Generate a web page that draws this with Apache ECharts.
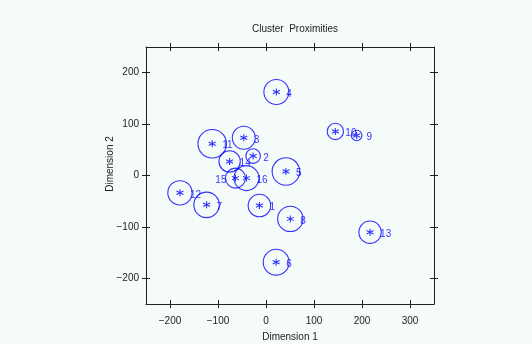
<!DOCTYPE html>
<html><head><meta charset="utf-8">
<script src="https://cdn.jsdelivr.net/npm/echarts@6/dist/echarts.min.js"></script>
<style>html,body{margin:0;padding:0;background:#fff}#c{width:532px;height:344px}</style>
</head><body><div id="c"></div>
<script>
// Cluster labels and canonical coordinates (Dimension 1, Dimension 2)
const clusterLabels = ['1','2','3','4','5','6','7','8','9','10','11','12','13','14','15','16'];
const dim1 = [-13.7, -26.8, -46.3, 21.6, 41.5, 21.2, -123.8, 50.7, 188.8, 144.5, -112.0, -179.3, 216.8, -75.8, -63.6, -40.7];
const dim2 = [-58.4, 37.8, 73.4, 162.5, 7.8, -168.7, -57.1, -84.4, 77.9, 85.7, 61.8, -33.7, -110.3, 27.3, -5.1, -5.1];
// cluster radius, in Dimension 1 units
const clusterRadius = [23.5, 15.2, 23.9, 26.0, 28.7, 27.0, 26.6, 26.4, 11.0, 17.0, 29.7, 25.3, 23.3, 22.2, 20.8, 26.0];
const xTicks = [-200, -100, 0, 100, 200, 300];
const yTicks = [-200, -100, 0, 100, 200];

const BLUE = '#0000ff';
const AX = '#222222';
const FONT = 'Liberation Sans';
const X_MIN = -250, X_MAX = 350, Y_MIN = -250, Y_MAX = 250;
const GRID = {left: 146, top: 47, width: 288, height: 257, outerBoundsMode: 'none', containLabel: false};
const pxPerUnit = GRID.width / (X_MAX - X_MIN);

const labelLeft = {'15': true};

const points = dim1.map((x, i) => ({
  value: [x, dim2[i], clusterRadius[i]],
  name: clusterLabels[i],
  label: labelLeft[clusterLabels[i]] ? {position: 'left', distance: 3} : undefined
}));

const fmt = v => (v < 0 ? '\u2212' + Math.abs(v) : String(v));

function xAx(position, inside, withLine, withLabel) {
  return {
    type: 'value', position, min: X_MIN, max: X_MAX, gridIndex: 0,
    axisLine: {show: withLine, onZero: false, lineStyle: {color: AX, width: 1}},
    axisTick: {show: true, inside, length: 4, customValues: xTicks, lineStyle: {color: AX, width: 1}},
    axisLabel: withLabel ? {show: true, customValues: xTicks, formatter: fmt, margin: 12, fontSize: 10, fontFamily: FONT, color: AX} : {show: false},
    splitLine: {show: false},
    name: withLabel ? 'Dimension 1' : '',
    nameLocation: 'middle', nameGap: 28, nameMoveOverlap: false,
    nameTextStyle: {fontSize: 10, fontFamily: FONT, color: AX}
  };
}
function yAx(position, inside, withLine, withLabel) {
  return {
    type: 'value', position, min: Y_MIN, max: Y_MAX, gridIndex: 0,
    axisLine: {show: withLine, onZero: false, lineStyle: {color: AX, width: 1}},
    axisTick: {show: true, inside, length: 4, customValues: yTicks, lineStyle: {color: AX, width: 1}},
    axisLabel: withLabel ? {show: true, customValues: yTicks, formatter: fmt, margin: 7, fontSize: 10, fontFamily: FONT, color: AX} : {show: false},
    splitLine: {show: false},
    name: withLabel ? 'Dimension 2' : '',
    nameLocation: 'middle', nameGap: 31, nameRotate: 90, nameMoveOverlap: false,
    nameTextStyle: {fontSize: 10, fontFamily: FONT, color: AX, padding: [0, 0, 0, 23]}
  };
}

const chart = echarts.init(document.getElementById('c'), null, {renderer: 'canvas'});
chart.setOption({
  backgroundColor: '#f5fbf9',
  animation: false,
  title: {
    text: 'Cluster  Proximities', left: 290, top: 19, textAlign: 'center',
    textStyle: {fontSize: 10, fontWeight: 'normal', fontFamily: FONT, color: AX}
  },
  grid: GRID,
  xAxis: [xAx('bottom', false, true, true), xAx('bottom', true, false, false), xAx('top', false, true, false), xAx('top', true, false, false)],
  yAxis: [yAx('left', false, true, true), yAx('left', true, false, false), yAx('right', false, true, false), yAx('right', true, false, false)],
  series: [
    {
      type: 'scatter', xAxisIndex: 0, yAxisIndex: 0,
      data: points.map(p => p.value),
      symbol: 'circle',
      symbolSize: v => 2 * v[2] * pxPerUnit,
      itemStyle: {color: 'none', borderColor: BLUE, borderWidth: 1.1},
      silent: true, z: 2
    },
    {
      type: 'scatter', xAxisIndex: 0, yAxisIndex: 0,
      data: points,
      symbol: 'path://M0,-10L0,10M-8.66,-5L8.66,5M-8.66,5L8.66,-5',
      symbolSize: 7,
      itemStyle: {color: 'none', borderColor: BLUE, borderWidth: 1.1},
      label: {show: true, position: 'right', distance: 4, offset: [0, 2], formatter: p => p.name,
        fontSize: 10, fontFamily: FONT, color: BLUE},
      silent: true, z: 3
    }
  ]
});
</script></body></html>
